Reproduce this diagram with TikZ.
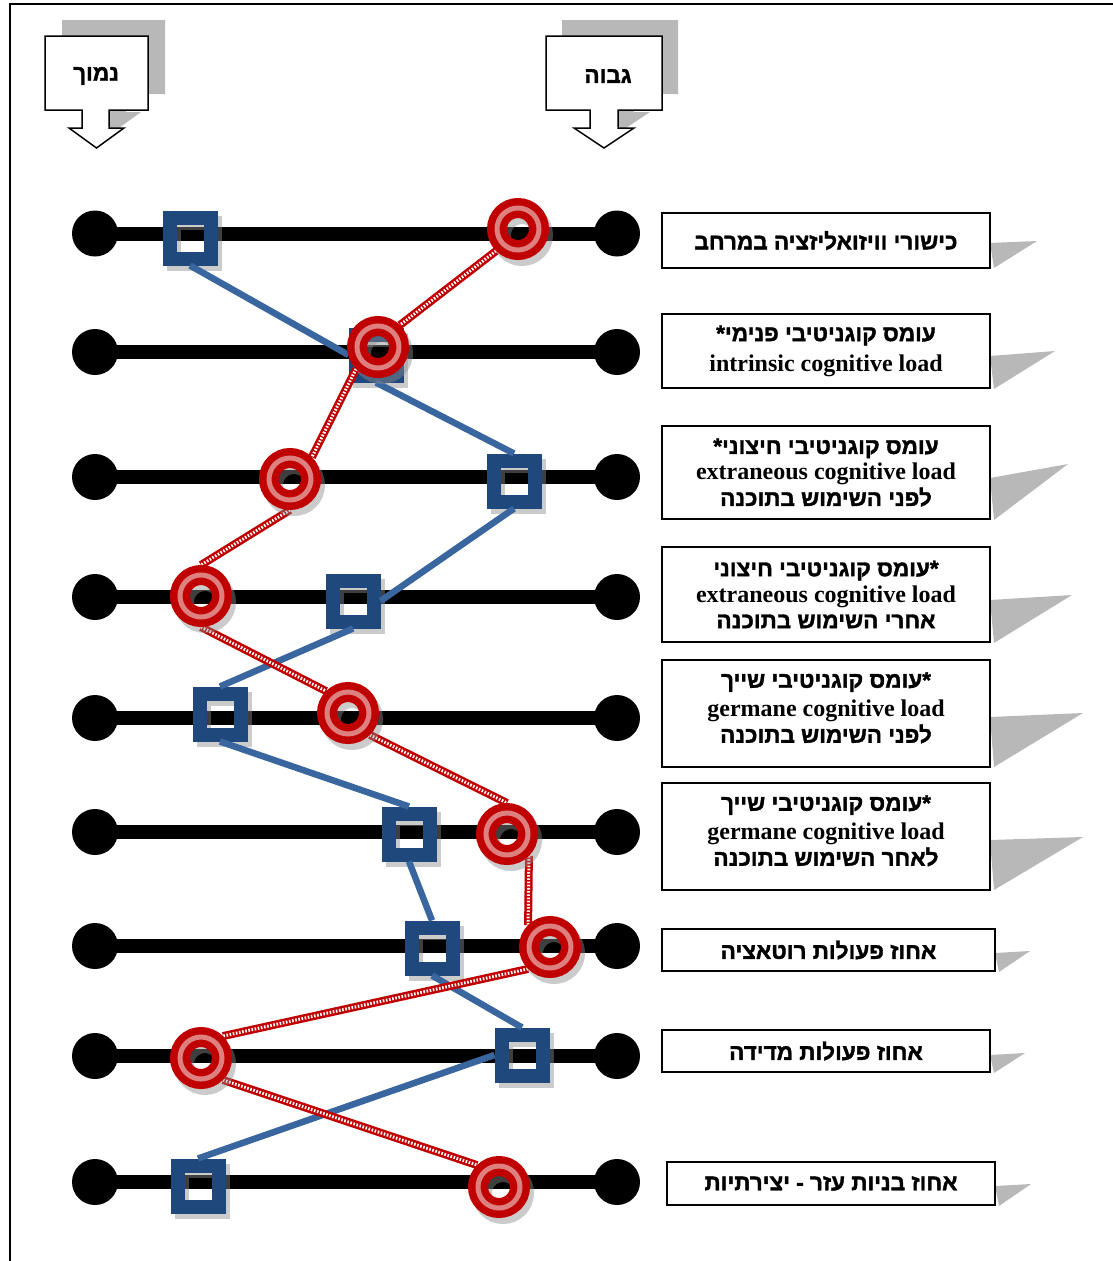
\documentclass[tikz,border=0pt]{standalone}
\usepackage{fontspec}
\setmainfont{Liberation Serif}
\newfontfamily\hebfont[Script=Hebrew, RawFeature={embolden=1.6}]{Liberation Sans Bold}
\TeXXeTstate=1
\usetikzlibrary{calc}
\definecolor{sqblue}{HTML}{1F497D}
\definecolor{lnblue}{HTML}{3A66A0}
\definecolor{ringred}{HTML}{C00000}
\definecolor{ringpink}{HTML}{DE8080}
\definecolor{shade}{HTML}{B8B8B8}
\newcommand{\hb}[1]{{\hebfont\mdseries\fontsize{22.5}{26}\selectfont\beginR #1\endR}}
\tikzset{
  dot/.style={circle, fill=black, minimum size=46pt, inner sep=0pt},
  rowline/.style={line width=14pt},
  sqmark/.style={rectangle, draw=sqblue, line width=14pt, minimum size=41pt, inner sep=0pt,
    preaction={draw=black!45, opacity=.45, transform canvas={xshift=4pt,yshift=-5pt}}},
  ringmark/.style={circle, draw=ringred, line width=20pt, minimum size=42pt, inner sep=0pt,
    preaction={draw=black!45, opacity=.45, transform canvas={xshift=4pt,yshift=-6pt}},
    postaction={draw=ringpink, line width=5pt}},
  blueline/.style={draw=lnblue, line width=6.5pt},
  redline/.style={draw=ringred, line width=8pt, postaction={draw=white, line width=3pt, dash pattern=on 1.6pt off 1.6pt}},
  labelbox/.style={draw, line width=1.6pt, fill=white, align=center, inner sep=2pt,
    font=\fontsize{24}{26}\selectfont\bfseries},
  boxshadow/.style={fill=shade},
  callout/.style={draw, line width=1.5pt, fill=white},
  calloutshadow/.style={fill=shade},
  heading/.style={inner sep=0pt}
}
\begin{document}
\begin{tikzpicture}[x=1pt,y=-1pt]
\useasboundingbox (0,0) rectangle (1113,1261);
% frame
\draw[line width=2pt] (10,1265) -- (10,4) -- (1117,4);

% top callouts
\fill[calloutshadow, shift={(17,-16)}] (45,36) -- (148,36) -- (148,110) -- (109,110) -- (109,128) -- (124,128) -- (96.5,148) -- (69,128) -- (82,128) -- (82,110) -- (45,110) -- cycle;
\draw[callout] (45,36) -- (148,36) -- (148,110) -- (109,110) -- (109,128) -- (124,128) -- (96.5,148) -- (69,128) -- (82,128) -- (82,110) -- (45,110) -- cycle;
\node[heading] (low) at (96,76) {\hb{נמוך}};
\fill[calloutshadow, shift={(16,-16)}] (546,36) -- (662,36) -- (662,110) -- (618,110) -- (618,128) -- (634,128) -- (604,148) -- (574,128) -- (590,128) -- (590,110) -- (546,110) -- cycle;
\draw[callout] (546,36) -- (662,36) -- (662,110) -- (618,110) -- (618,128) -- (634,128) -- (604,148) -- (574,128) -- (590,128) -- (590,110) -- (546,110) -- cycle;
\node[heading] (high) at (608,76) {\hb{גבוה}};

% rows
\foreach \i/\y in {1/233.5,2/352,3/477,4/597,5/718,6/832,7/946,8/1056,9/1182}{
  \node[dot] (l\i) at (95,\y) {};
  \node[dot] (r\i) at (617,\y) {};
  \draw[rowline] (l\i.center) -- (r\i.center);
}

% squares
\foreach \n/\x/\y in {1/190/238,2/376/355,3/514/481,4/353/601,5/220/714,6/409/834,7/432/948,8/522/1055,9/198/1186}{
  \node[sqmark] (s\n) at (\x,\y) {};
}
\draw[blueline] (s1.south) -- (s2.west);
\draw[blueline] (s2.south) -- (s3.north);
\draw[blueline] (s3.south) -- (s4.east);
\draw[blueline] (s4.south) -- (s5.north);
\draw[blueline] (s5.south) -- (s6.north);
\draw[blueline] (s6.south) -- (s7.north);
\draw[blueline] (s7.south) -- (s8.north);
\draw[blueline] (s8.west) -- (s9.north);

% circle positions
\foreach \n/\x/\y in {1/518/229,2/378/347,3/290/479,4/201/596,5/348/713,6/507/834,7/550/947,8/201/1058,9/499/1187}{
  \coordinate (p\n) at (\x,\y);
}
% circle outlines (anchors for the connectors), rings drawn on top afterwards
\begin{scope}[overlay]
\foreach \n in {1,...,9}{
  \node[circle, minimum size=62pt, inner sep=0pt, outer sep=0pt] (c\n) at (p\n) {};
}
\end{scope}
\draw[redline] (c1.south west) -- (c2.north east);
\draw[redline] (c2.south west) -- (c3.north east);
\draw[redline] (c3.south) -- (c4.north);
\draw[redline] (c4.south) -- (c5.north west);
\draw[redline] (c5.south east) -- (c6.north);
\draw[redline] (c6.south east) -- (c7.north west);
\draw[redline] (c7.south west) -- (c8.north east);
\draw[redline] (c8.south east) -- (c9.north west);
\foreach \n in {1,...,9}{
  \node[ringmark] (m\n) at (c\n.center) {};
}

% label shadows
\fill[boxshadow] (990,243) -- (1037,241) -- (994,268) -- cycle;
\fill[boxshadow] (990,356) -- (1055,351) -- (994,389) -- cycle;
\fill[boxshadow] (990,478) -- (1068,464) -- (994,520) -- cycle;
\fill[boxshadow] (990,600) -- (1072,595) -- (994,643) -- cycle;
\fill[boxshadow] (990,717) -- (1083,713) -- (994,767) -- cycle;
\fill[boxshadow] (990,840) -- (1083,837) -- (994,890) -- cycle;
\fill[boxshadow] (995,953) -- (1030,951) -- (999,972) -- cycle;
\fill[boxshadow] (990,1055) -- (1025,1053) -- (994,1073) -- cycle;
\fill[boxshadow] (995,1186) -- (1031,1184) -- (999,1206) -- cycle;

% label boxes
\node[labelbox, minimum width=328pt, minimum height=55pt] (b1) at (826,240.5) {\hb{כישורי וויזואליזציה במרחב}};
\node[labelbox, minimum width=328pt, minimum height=74pt] (b2) at (826,351) {\hb{עומס קוגניטיבי פנימי*}\\[4pt]intrinsic cognitive load};
\node[labelbox, minimum width=328pt, minimum height=93pt] (b3) at (826,472.5) {\hb{עומס קוגניטיבי חיצוני*}\\extraneous cognitive load\\\hb{לפני השימוש בתוכנה}};
\node[labelbox, minimum width=328pt, minimum height=95pt] (b4) at (826,594.5) {\hb{*עומס קוגניטיבי חיצוני}\\extraneous cognitive load\\\hb{אחרי השימוש בתוכנה}};
\node[labelbox, minimum width=328pt, minimum height=107pt] (b5) at (826,713.5) {\hb{*עומס קוגניטיבי שייך}\\[3pt]germane cognitive load\\\hb{לפני השימוש בתוכנה}\rule[-12pt]{0pt}{0pt}};
\node[labelbox, minimum width=328pt, minimum height=107pt] (b6) at (826,836.5) {\hb{*עומס קוגניטיבי שייך}\\[3pt]germane cognitive load\\\hb{לאחר השימוש בתוכנה}\rule[-12pt]{0pt}{0pt}};
\node[labelbox, minimum width=333pt, minimum height=42pt] (b7) at (828.5,950) {\hb{אחוז פעולות רוטאציה}};
\node[labelbox, minimum width=328pt, minimum height=42pt] (b8) at (826,1051) {\hb{אחוז פעולות מדידה}};
\node[labelbox, minimum width=328pt, minimum height=43pt] (b9) at (831,1183.5) {\hb{אחוז בניות עזר - יצירתיות}};
\end{tikzpicture}
\end{document}
